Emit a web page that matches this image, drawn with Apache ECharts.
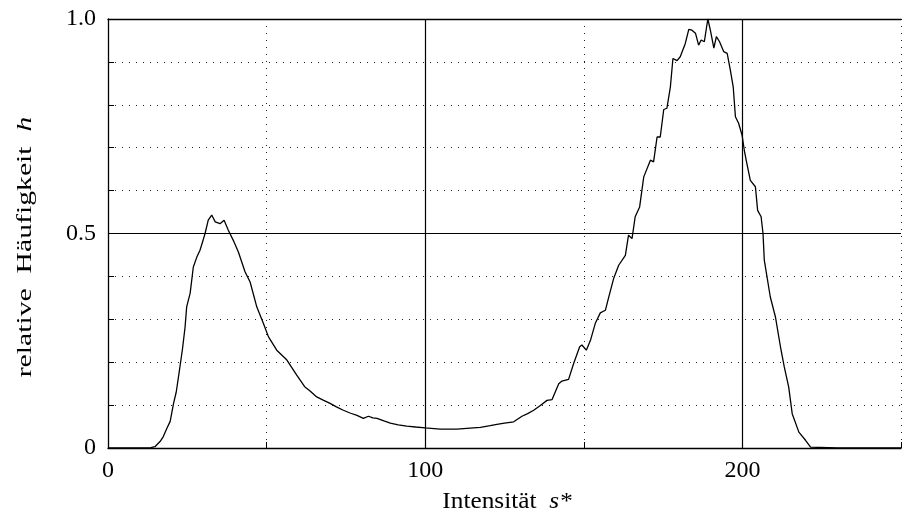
<!DOCTYPE html>
<html>
<head>
<meta charset="utf-8">
<script src="https://cdn.jsdelivr.net/npm/echarts@6/dist/echarts.min.js"></script>
<style>html,body{margin:0;padding:0;background:#fff;}#c{width:905px;height:513px;}</style>
</head>
<body>
<div id="c"></div>
<script>
// Intensity values s* (x) and relative frequency h (y)
const intensity = [0,5,10,12,13.5,14.8,16.4,17.4,18.5,19.6,20.7,21.5,22.5,23.5,24.3,24.8,25.9,26.9,28,29,30,30.6,31.6,32.7,33.8,35.3,36.6,37.9,39.5,41.1,43.2,44.8,46.9,49,50.6,53.2,56.4,59.5,62,63.7,65.8,68,70,72,74.2,76.5,78.5,80.5,82.1,83.5,84.8,87,89,91.5,94.2,97,100,104.7,110,115.2,117.4,120.5,122.6,125,127.9,130.5,132.3,134.2,136.3,138.4,140,142.1,143.1,145.2,146.8,148.7,149.4,150.8,152.1,153.6,155.2,156.8,157.8,159.4,161,163.1,164.1,165.2,166.2,167.6,168.9,171,172,173.1,174.1,175.2,176.2,177.3,178.1,179.4,180.4,182,183.1,184.1,185.2,186.2,187,188,189.1,189.9,191,191.8,192.8,194.1,195.2,196.2,197.1,197.8,198.8,199.9,200.6,201.3,202.5,204.1,204.8,205.9,206.5,206.9,208.8,210.4,212,213.2,214.6,215.7,217.8,219.9,221.5,222,230,250];
const frequency = [0,0,0,0,0.001,0.003,0.015,0.026,0.045,0.062,0.105,0.13,0.18,0.232,0.282,0.329,0.361,0.422,0.445,0.461,0.485,0.5,0.531,0.543,0.527,0.523,0.531,0.508,0.484,0.457,0.411,0.387,0.329,0.29,0.259,0.228,0.205,0.17,0.143,0.133,0.119,0.111,0.104,0.096,0.088,0.081,0.076,0.069,0.074,0.07,0.069,0.063,0.058,0.054,0.051,0.049,0.047,0.044,0.044,0.047,0.048,0.052,0.055,0.058,0.061,0.074,0.08,0.088,0.099,0.111,0.113,0.15,0.156,0.16,0.197,0.236,0.24,0.228,0.251,0.29,0.315,0.321,0.35,0.395,0.426,0.449,0.496,0.488,0.539,0.562,0.632,0.671,0.667,0.725,0.725,0.789,0.792,0.842,0.908,0.903,0.912,0.943,0.976,0.974,0.967,0.939,0.951,0.947,1.0,0.974,0.932,0.959,0.947,0.924,0.92,0.881,0.842,0.772,0.757,0.729,0.694,0.667,0.624,0.609,0.554,0.539,0.5,0.438,0.352,0.306,0.236,0.189,0.142,0.08,0.037,0.018,0.002,0,0,0];
const xTickLabels = {0:'0',100:'100',200:'200'};
const yTickLabels = ['0','0.5','1.0'];
const xTitle = 'Intensität';
const xTitleVar = 's*';
const yTitle = 'relative  Häufigkeit';
const yTitleVar = 'h';

const points = intensity.map((s,i)=>[s,frequency[i]]);
const FONT = '"Liberation Serif", "DejaVu Serif", serif';
const dotted = {color:'#222', width:1, type:[1,6]};

const chart = echarts.init(document.getElementById('c'), null, {renderer:'canvas'});
chart.setOption({
  animation:false,
  backgroundColor:'#fff',
  grid:{left:108, right:4, top:19, bottom:65, containLabel:false},
  xAxis:[{
    type:'value', min:0, max:250, interval:50,
    axisLine:{show:true, lineStyle:{color:'#000', width:1.3}},
    axisTick:{show:true, inside:true, length:6, lineStyle:{color:'#000'}},
    axisLabel:{margin:11, color:'#000', fontFamily:FONT, fontSize:24,
      formatter:v=>xTickLabels[Math.round(v)]!==undefined && Math.abs(v-Math.round(v))<1e-6 ? xTickLabels[Math.round(v)] : ''},
    splitLine:{show:true, lineStyle:dotted}
  },{
    type:'value', min:0, max:250, interval:50, position:'top',
    axisLine:{show:true, onZero:false, lineStyle:{color:'#000', width:1.3}},
    axisTick:{show:false}, axisLabel:{show:false}, splitLine:{show:false}
  }],
  yAxis:{
    type:'value', min:0, max:1, interval:0.1,
    axisLine:{show:true, lineStyle:{color:'#000', width:1.3}},
    axisTick:{show:true, inside:true, length:6, lineStyle:{color:'#000'}},
    axisLabel:{margin:12, color:'#000', fontFamily:FONT, fontSize:24,
      formatter:v=>{ if(Math.abs(v)<1e-6) return yTickLabels[0]; if(Math.abs(v-0.5)<1e-6) return yTickLabels[1]; if(Math.abs(v-1)<1e-6) return yTickLabels[2]; return ''; }},
    splitLine:{show:true, lineStyle:dotted}
  },
  series:[{
    type:'line', data:points, showSymbol:false, symbol:'none', smooth:false,
    lineStyle:{color:'#000', width:1.3},
    markLine:{silent:true, symbol:['none','none'], label:{show:false},
      lineStyle:{color:'#000', width:1.2, type:'solid'},
      data:[{yAxis:0.5},{xAxis:100},{xAxis:200}]}
  }],
  graphic:[
    {type:'text', x:507, y:502, scaleX:1.1, scaleY:1,
      style:{text:xTitle+'  {i|'+xTitleVar+'}', fontFamily:FONT, fontSize:23, fill:'#000', align:'center', verticalAlign:'middle',
        rich:{i:{fontFamily:FONT, fontSize:23, fontStyle:'italic', fill:'#000'}}}},
    {type:'text', x:25, y:247, rotation:Math.PI/2, scaleX:1.35, scaleY:1,
      style:{text:yTitle+'  {i|'+yTitleVar+'}', fontFamily:FONT, fontSize:22, fill:'#000', align:'center', verticalAlign:'middle',
        rich:{i:{fontFamily:FONT, fontSize:22, fontStyle:'italic', fill:'#000'}}}}
  ]
});
</script>
</body>
</html>
